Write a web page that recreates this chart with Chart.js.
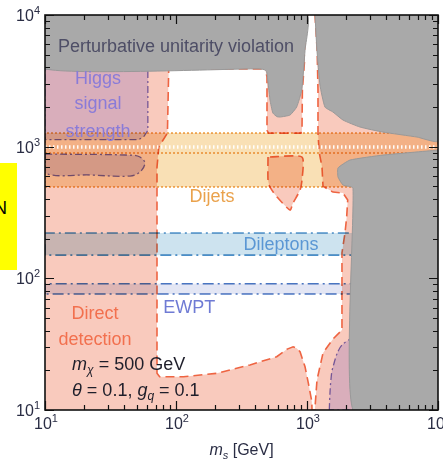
<!DOCTYPE html>
<html>
<head>
<meta charset="utf-8">
<script src="https://cdn.jsdelivr.net/npm/chart.js@4.4.1/dist/chart.umd.min.js"></script>
<style>
  html, body { margin: 0; padding: 0; background: #ffffff; }
  #wrap { position: relative; width: 443px; height: 467px; overflow: hidden; }
  canvas { display: block; }
  #tag { position: absolute; left: 0; top: 163px; width: 17px; height: 107px; background: #ffff00; overflow: hidden; }
  #tag span { position: absolute; left: -6px; top: 35px; font: 18px "Liberation Sans", Arial, sans-serif; color: #000; }
</style>
</head>
<body>
<div id="wrap">
  <canvas id="c" width="443" height="467"></canvas>
  <div id="tag"><span>N</span></div>
</div>
<script>
// Axis ranges (GeV) and tick decades
const X_MIN = 10, X_MAX = 10000, Y_MIN = 10, Y_MAX = 10000;
const majorTicks = [10, 100, 1000, 10000];
const tickExponents = ['1', '2', '3', '4'];
const minorMultipliers = [2, 3, 4, 5, 6, 7, 8, 9];

// Exclusion regions, vertices as [m_s, m_Z'] in GeV
const ddAllowed = [
  [88, 3900], [940, 3900], [995, 10000], [1151, 10000], [1195, 5410], [1213, 2692],
  [1213, 1268], [1240, 900], [1302, 700], [1325, 500], [1579, 452], [1884, 444],
  [2045, 393], [2008, 292], [1950, 221], [1849, 156], [1849, 40.5], [1579, 34.6],
  [1325, 27.1], [1192, 16.9], [1151, 10.4], [1151, 10], [1092, 10], [1088, 11.6],
  [1024, 16.0], [966, 21.3], [885, 27.7], [834, 29.4], [783, 30.2], [706, 29.0],
  [587, 25.4], [367, 22.0], [205, 19.0], [114, 17.9], [75, 17.9], [71.6, 19],
  [71.6, 700], [74, 1000], [86, 1268], [88, 3900]
];
const ddDipIsland = [
  [470, 4500], [478, 3900], [495, 3400], [495, 1330], [510, 1268], [900, 1268],
  [916, 1330], [922, 2692], [958, 4500], [470, 4500]
];
const ddNotch = [
  [504, 834], [504, 560], [522, 492], [591, 414], [742, 330], [781, 372],
  [885, 468], [916, 560], [916, 834], [504, 834]
];
const unitarityLeft = [
  [10, 10000], [10, 3900], [423, 3900], [470, 3850], [492, 3707], [522, 2260],
  [549, 1800], [590, 1690], [622, 1679], [742, 1738], [834, 2000], [912, 2692],
  [966, 5410], [995, 10000], [10, 10000]
];
const unitarityRight = [
  [1151, 10000], [1191, 5410], [1256, 2937], [1371, 2000], [1579, 1832], [1884, 1592],
  [2541, 1409], [3802, 1290], [6918, 1183], [10000, 1104], [10000, 10000], [1151, 10000]
];
const unitarityLower = [
  [10000, 960], [9820, 942], [3802, 863], [2128, 791], [1725, 689], [1725, 588],
  [1884, 511], [2244, 485], [2244, 10], [10000, 10], [10000, 960]
];
const higgsUpper = [
  [10, 3900], [61, 3900], [61, 1330], [57, 1200], [52, 1130], [10, 1130], [10, 3900]
];
const higgsBlob = [
  [10, 879], [44.6, 863], [53.1, 834], [57.9, 750], [53.1, 641], [44.6, 598],
  [22.1, 609], [10, 631], [10, 879]
];
const higgsLow = [
  [1480, 10], [1500, 14], [1540, 19], [1578, 21.2], [1700, 27], [1849, 31.2],
  [2208, 35.2], [2400, 35.5], [2400, 10], [1480, 10]
];
// Horizontal bands [lower, upper] in m_Z'
const dileptonBand = [150, 221];
const ewptBand = [76, 91];
const dijetBand = [493, 1268];
const dijetInner = [894, 993];

const FONT = '"Liberation Sans", Arial, Helvetica, sans-serif';

const toPts = arr => arr.map(([x, y]) => ({ x, y }));
const band = ([lo, hi]) => [[X_MIN, lo], [X_MIN, hi], [3000, hi], [3000, lo], [X_MIN, lo]];
const fullBand = ([lo, hi]) => [[X_MIN, lo], [X_MIN, hi], [X_MAX, hi], [X_MAX, lo], [X_MIN, lo]];

function region(points, opts) {
  return Object.assign({
    data: toPts(points),
    pointRadius: 0,
    pointHoverRadius: 0,
    borderWidth: 1,
    borderColor: 'rgba(0,0,0,0)',
    backgroundColor: 'rgba(0,0,0,0)',
    fill: 'shape',
    tension: 0,
    clip: 0
  }, opts);
}
function hline(yv, opts) {
  return Object.assign({
    data: toPts([[X_MIN, yv], [X_MAX, yv]]),
    pointRadius: 0, pointHoverRadius: 0, fill: false, tension: 0, clip: 0
  }, opts);
}

const PINK = '#f9cabd';
const GREY = '#a9a9a9';
const DD_LINE = '#ee6442';
const HIGGS = '#7f74cc';
const HIGGS_FILL = '#dfdcfc';

const datasets = [
  region(fullBand([Y_MIN, Y_MAX]), { backgroundColor: PINK }),
  region(ddAllowed, { backgroundColor: '#ffffff', borderColor: DD_LINE, borderWidth: 1.6, borderDash: [9, 5] }),
  region(ddDipIsland, { backgroundColor: PINK, borderColor: DD_LINE, borderWidth: 1.6, borderDash: [9, 5] }),
  region(ddNotch, { backgroundColor: PINK, borderColor: DD_LINE, borderWidth: 1.6, borderDash: [9, 5], tension: 0.2 }),
  region(higgsUpper, { backgroundColor: HIGGS_FILL, blend: 'multiply', borderColor: HIGGS, borderWidth: 1.3, borderDash: [7, 3, 2, 3] }),
  region(higgsBlob, { backgroundColor: HIGGS_FILL, blend: 'multiply', borderColor: HIGGS, borderWidth: 1.3, borderDash: [7, 3, 2, 3], tension: 0.35 }),
  region(higgsLow, { backgroundColor: HIGGS_FILL, blend: 'multiply', borderColor: HIGGS, borderWidth: 1.3, borderDash: [7, 3, 2, 3], tension: 0.3 }),
  region(band(dileptonBand), { backgroundColor: '#cde3ef', blend: 'multiply', borderColor: '#4f93cb', borderWidth: 1.6, borderDash: [11, 4, 2, 4] }),
  region(band(ewptBand), { backgroundColor: '#e3e6f4', blend: 'multiply', borderColor: '#4b78c4', borderWidth: 1.6, borderDash: [11, 4, 2, 4] }),
  region(fullBand(dijetBand), { backgroundColor: '#f9e0b5', blend: 'multiply', borderColor: '#efa040', borderWidth: 1.5, borderDash: [2, 2] }),
  hline(dijetInner[1], { borderColor: 'rgba(255,255,255,0.95)', borderWidth: 3.5, borderDash: [1.5, 2.5] }),
  hline(dijetInner[0], { borderColor: '#efa040', borderWidth: 1.5, borderDash: [2, 2], blend: 'multiply' }),
  region(unitarityLeft, { backgroundColor: GREY, borderColor: '#999999', borderWidth: 1, tension: 0.15 }),
  region(unitarityRight, { backgroundColor: GREY, borderColor: '#999999', borderWidth: 1, tension: 0.15 }),
  region(unitarityLower, { backgroundColor: GREY, borderColor: '#999999', borderWidth: 1, tension: 0.15 })
];
// first dataset at the bottom of the stack
datasets.forEach((d, i) => { d.order = datasets.length - i; });

// Labels placed in data coordinates
const annotations = [
  { text: 'Perturbative unitarity violation', x: 100, y: 5700, color: '#4e4e66' },
  { text: 'Higgs', x: 25.4, y: 3260, color: '#8a7bd8' },
  { text: 'signal', x: 25.4, y: 2104, color: '#8a7bd8' },
  { text: 'strength', x: 25.4, y: 1291, color: '#8a7bd8' },
  { text: 'Dijets', x: 188, y: 414, color: '#eaa24c' },
  { text: 'Dileptons', x: 634, y: 179, color: '#5b97d4' },
  { text: 'EWPT', x: 126, y: 59.6, color: '#6f7bd4' },
  { text: 'Direct', x: 24.1, y: 53.6, color: '#f2704e' },
  { text: 'detection', x: 24.1, y: 34.0, color: '#f2704e' }
];

// Per-dataset compositing: the mode is set just before a dataset's fill is painted
const blendPlugin = {
  id: 'blend',
  beforeDatasetsDraw(chart) {
    chart.$seq = chart.getSortedVisibleDatasetMetas().map(m => m.index).reverse();
    applyBlend(chart, chart.$seq[0]);
  },
  afterDatasetDraw(chart, args) {
    const k = chart.$seq.indexOf(args.index);
    applyBlend(chart, chart.$seq[k + 1]);
  },
  afterDatasetsDraw(chart) {
    chart.ctx.globalCompositeOperation = 'source-over';
  }
};
function applyBlend(chart, idx) {
  const ds = idx === undefined ? null : chart.data.datasets[idx];
  chart.ctx.globalCompositeOperation = ds && ds.blend ? ds.blend : 'source-over';
}

function drawRich(ctx, parts, x, y, align) {
  let w = 0;
  parts.forEach(p => { ctx.font = p.font; w += ctx.measureText(p.t).width; });
  let cx = align === 'center' ? x - w / 2 : (align === 'right' ? x - w : x);
  ctx.textAlign = 'left';
  parts.forEach(p => {
    ctx.font = p.font;
    ctx.fillText(p.t, cx, y + (p.dy || 0));
    cx += ctx.measureText(p.t).width;
  });
}

const labelPlugin = {
  id: 'labels',
  afterDatasetsDraw(chart) {
    const ctx = chart.ctx, xs = chart.scales.x, ys = chart.scales.y;
    ctx.save();
    ctx.globalCompositeOperation = 'source-over';
    ctx.textBaseline = 'middle';
    ctx.textAlign = 'center';
    ctx.font = '18px ' + FONT;
    annotations.forEach(a => {
      ctx.fillStyle = a.color;
      ctx.fillText(a.text, xs.getPixelForValue(a.x), ys.getPixelForValue(a.y));
    });
    ctx.fillStyle = '#1e1e2a';
    ctx.textBaseline = 'alphabetic';
    const lx = xs.getPixelForValue(16.1);
    drawRich(ctx, [
      { t: 'm', font: 'italic 18px ' + FONT },
      { t: 'χ', font: 'italic 12px ' + FONT, dy: 4 },
      { t: ' = 500 GeV', font: '18px ' + FONT }
    ], lx, ys.getPixelForValue(22.3) + 6, 'left');
    drawRich(ctx, [
      { t: 'θ', font: 'italic 18px ' + FONT },
      { t: ' = 0.1, ', font: '18px ' + FONT },
      { t: 'g', font: 'italic 18px ' + FONT },
      { t: 'q', font: 'italic 12px ' + FONT, dy: 4 },
      { t: ' = 0.1', font: '18px ' + FONT }
    ], lx, ys.getPixelForValue(14.2) + 6, 'left');
    ctx.restore();
  }
};

const framePlugin = {
  id: 'frame',
  afterDraw(chart) {
    const ctx = chart.ctx, xs = chart.scales.x, ys = chart.scales.y;
    const a = chart.chartArea;
    ctx.save();
    ctx.strokeStyle = '#111111';
    ctx.lineWidth = 1.2;
    const ticks = [];
    majorTicks.forEach(v => ticks.push({ v, len: 9 }));
    majorTicks.slice(0, -1).forEach(d => minorMultipliers.forEach(m => ticks.push({ v: d * m, len: 5 })));
    ctx.beginPath();
    ticks.forEach(t => {
      const px = Math.round(xs.getPixelForValue(t.v)) + 0.5;
      ctx.moveTo(px, a.bottom); ctx.lineTo(px, a.bottom - t.len);
      ctx.moveTo(px, a.top); ctx.lineTo(px, a.top + t.len);
      const py = Math.round(ys.getPixelForValue(t.v)) + 0.5;
      ctx.moveTo(a.left, py); ctx.lineTo(a.left + t.len, py);
      ctx.moveTo(a.right, py); ctx.lineTo(a.right - t.len, py);
    });
    ctx.stroke();
    ctx.lineWidth = 1.6;
    ctx.strokeRect(a.left, a.top, a.right - a.left, a.bottom - a.top);

    ctx.fillStyle = '#2a2d44';
    ctx.textBaseline = 'alphabetic';
    majorTicks.forEach((v, i) => {
      const parts = [
        { t: '10', font: '16px ' + FONT },
        { t: tickExponents[i], font: '11px ' + FONT, dy: -7 }
      ];
      drawRich(ctx, parts, xs.getPixelForValue(v) + 1, a.bottom + 19, 'center');
      drawRich(ctx, parts, a.left - 5, ys.getPixelForValue(v) + 6, 'right');
    });
    ctx.fillStyle = '#2a2d44';
    drawRich(ctx, [
      { t: 'm', font: 'italic 16px ' + FONT },
      { t: 's', font: 'italic 11px ' + FONT, dy: 4 },
      { t: ' [GeV]', font: '16px ' + FONT }
    ], (a.left + a.right) / 2, a.bottom + 45, 'center');
    ctx.restore();
  }
};

new Chart(document.getElementById('c'), {
  type: 'line',
  data: { datasets },
  options: {
    responsive: false,
    animation: false,
    events: [],
    layout: { padding: { left: 45, top: 15, right: 5, bottom: 57 } },
    scales: {
      x: { type: 'logarithmic', min: X_MIN, max: X_MAX, display: false },
      y: { type: 'logarithmic', min: Y_MIN, max: Y_MAX, display: false }
    },
    plugins: { legend: { display: false }, tooltip: { enabled: false } }
  },
  plugins: [blendPlugin, labelPlugin, framePlugin]
});
</script>
</body>
</html>
